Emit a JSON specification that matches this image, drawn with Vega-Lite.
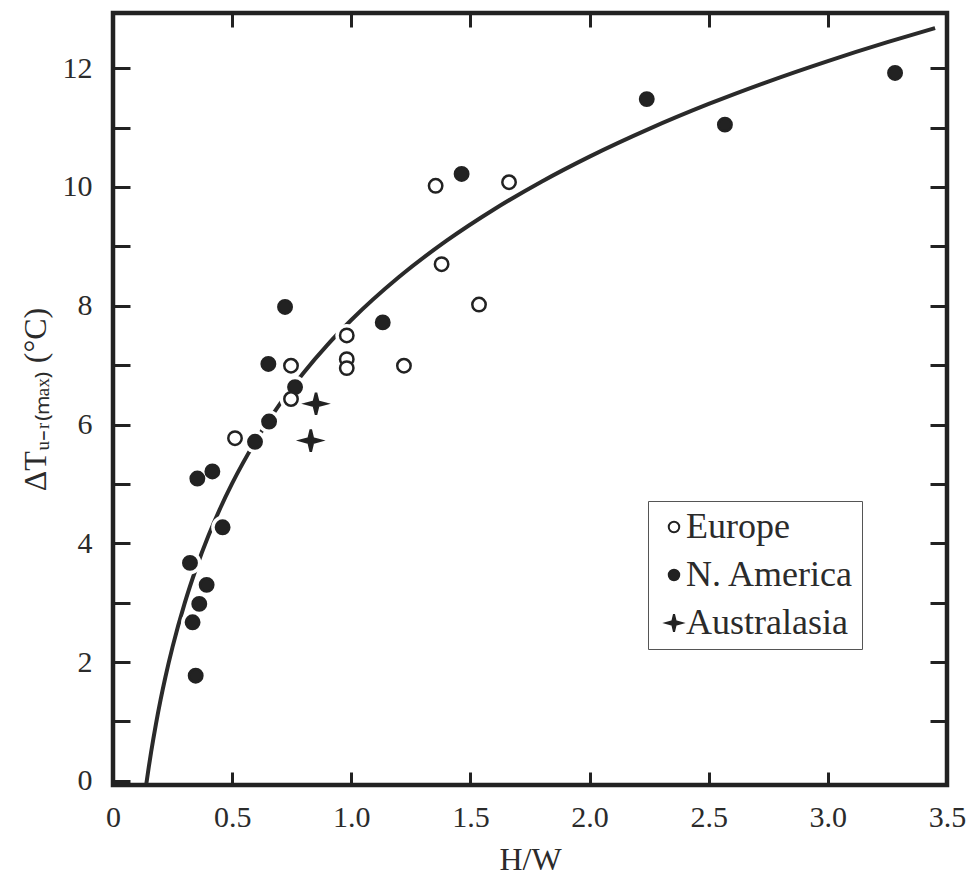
{
  "$schema": "https://vega.github.io/schema/vega-lite/v6.json",
  "width": 834,
  "height": 772,
  "autosize": {"type": "none"},
  "padding": {"left": 113, "top": 13, "right": 24, "bottom": 97},
  "background": "white",
  "config": {
    "view": {"stroke": "#222", "strokeWidth": 4.5},
    "font": "Liberation Serif",
    "axis": {
      "domain": false,
      "grid": false,
      "tickColor": "#222",
      "tickWidth": 3,
      "labelFont": "Liberation Serif",
      "labelFontSize": 30,
      "labelColor": "#2b2b2b",
      "titleFont": "Liberation Serif",
      "titleFontSize": 32,
      "titleFontWeight": "normal",
      "titleColor": "#2b2b2b"
    }
  },
  "datasets": {
    "curve": [
      {"hw": 0.14, "dt": -0.045},
      {"hw": 0.15, "dt": 0.229},
      {"hw": 0.16, "dt": 0.485},
      {"hw": 0.18, "dt": 0.952},
      {"hw": 0.2, "dt": 1.371},
      {"hw": 0.22, "dt": 1.749},
      {"hw": 0.25, "dt": 2.256},
      {"hw": 0.3, "dt": 2.98},
      {"hw": 0.35, "dt": 3.592},
      {"hw": 0.4, "dt": 4.122},
      {"hw": 0.45, "dt": 4.59},
      {"hw": 0.5, "dt": 5.008},
      {"hw": 0.6, "dt": 5.732},
      {"hw": 0.7, "dt": 6.344},
      {"hw": 0.8, "dt": 6.874},
      {"hw": 0.9, "dt": 7.342},
      {"hw": 1.0, "dt": 7.76},
      {"hw": 1.2, "dt": 8.484},
      {"hw": 1.4, "dt": 9.096},
      {"hw": 1.6, "dt": 9.626},
      {"hw": 1.8, "dt": 10.094},
      {"hw": 2.0, "dt": 10.512},
      {"hw": 2.25, "dt": 10.979},
      {"hw": 2.5, "dt": 11.398},
      {"hw": 2.75, "dt": 11.776},
      {"hw": 3.0, "dt": 12.121},
      {"hw": 3.25, "dt": 12.439},
      {"hw": 3.45, "dt": 12.676}
    ],
    "points": [
      {"region": "N. America", "hw": 0.722, "dt": 7.98},
      {"region": "N. America", "hw": 1.132, "dt": 7.72},
      {"region": "N. America", "hw": 0.652, "dt": 7.02},
      {"region": "N. America", "hw": 0.764, "dt": 6.63},
      {"region": "N. America", "hw": 0.655, "dt": 6.05},
      {"region": "N. America", "hw": 0.596, "dt": 5.71},
      {"region": "N. America", "hw": 0.354, "dt": 5.09},
      {"region": "N. America", "hw": 0.417, "dt": 5.21},
      {"region": "N. America", "hw": 0.46, "dt": 4.27},
      {"region": "N. America", "hw": 0.323, "dt": 3.67},
      {"region": "N. America", "hw": 0.393, "dt": 3.3},
      {"region": "N. America", "hw": 0.362, "dt": 2.98},
      {"region": "N. America", "hw": 0.334, "dt": 2.67},
      {"region": "N. America", "hw": 0.347, "dt": 1.77},
      {"region": "N. America", "hw": 1.463, "dt": 10.22},
      {"region": "N. America", "hw": 2.24, "dt": 11.48},
      {"region": "N. America", "hw": 2.568, "dt": 11.05},
      {"region": "N. America", "hw": 3.282, "dt": 11.92},
      {"region": "Europe", "hw": 0.981, "dt": 7.5},
      {"region": "Europe", "hw": 0.747, "dt": 6.99},
      {"region": "Europe", "hw": 0.981, "dt": 7.1},
      {"region": "Europe", "hw": 0.981, "dt": 6.95},
      {"region": "Europe", "hw": 1.221, "dt": 6.99},
      {"region": "Europe", "hw": 0.747, "dt": 6.43},
      {"region": "Europe", "hw": 0.512, "dt": 5.77},
      {"region": "Europe", "hw": 1.354, "dt": 10.02},
      {"region": "Europe", "hw": 1.662, "dt": 10.08},
      {"region": "Europe", "hw": 1.379, "dt": 8.7},
      {"region": "Europe", "hw": 1.536, "dt": 8.02},
      {"region": "Australasia", "hw": 0.852, "dt": 6.35},
      {"region": "Australasia", "hw": 0.83, "dt": 5.73}
    ]
  },
  "resolve": {"axis": {"x": "independent", "y": "independent"}},
  "layer": [
    {
      "data": {"name": "curve"},
      "mark": {"type": "line", "stroke": "#2a2a2a", "strokeWidth": 4, "interpolate": "monotone", "clip": true},
      "encoding": {
        "x": {
          "field": "hw", "type": "quantitative",
          "scale": {"domain": [0, 3.5], "nice": false, "zero": false},
          "axis": {
            "orient": "bottom",
            "values": [0, 0.5, 1, 1.5, 2, 2.5, 3, 3.5],
            "labelExpr": "datum.value === 0 ? '0' : format(datum.value, '.1f')",
            "tickSize": -13,
            "labelPadding": 30,
            "labelFlush": false,
            "title": "H/W",
            "titlePadding": 12
          }
        },
        "y": {
          "field": "dt", "type": "quantitative",
          "scale": {"domain": [-0.07, 12.93], "nice": false, "zero": false},
          "axis": {
            "orient": "left",
            "values": [0, 1, 2, 3, 4, 5, 6, 7, 8, 9, 10, 11, 12],
            "labelExpr": "datum.value % 2 === 0 ? datum.label : ''",
            "tickSize": -17,
            "labelPadding": 38,
            "labelFlush": false,
            "title": "ΔTᵤ₋ᵣ₍ₘₐₓ₎ (°C)",
            "titlePadding": 10
          }
        }
      }
    },
    {
      "data": {"name": "points"},
      "mark": {"type": "point", "shape": "circle", "filled": true, "fill": "white", "stroke": null, "size": 520, "opacity": 1},
      "encoding": {
        "x": {
          "field": "hw", "type": "quantitative",
          "scale": {"domain": [0, 3.5], "nice": false, "zero": false},
          "axis": {"orient": "top", "values": [0.5, 1, 1.5, 2, 2.5, 3], "labels": false, "title": null, "tickSize": -14}
        },
        "y": {
          "field": "dt", "type": "quantitative",
          "scale": {"domain": [-0.07, 12.93], "nice": false, "zero": false},
          "axis": {"orient": "right", "values": [1, 2, 3, 4, 5, 6, 7, 8, 9, 10, 11, 12], "labels": false, "title": null, "tickSize": -17}
        }
      }
    },
    {
      "data": {"name": "points"},
      "mark": {"type": "point", "size": 180, "stroke": "#222", "strokeWidth": 2.5, "opacity": 1, "fillOpacity": 1},
      "encoding": {
        "x": {"field": "hw", "type": "quantitative", "scale": {"domain": [0, 3.5], "nice": false, "zero": false}, "axis": null},
        "y": {"field": "dt", "type": "quantitative", "scale": {"domain": [-0.07, 12.93], "nice": false, "zero": false}, "axis": null},
        "fill": {
          "field": "region", "type": "nominal",
          "scale": {"domain": ["Europe", "N. America", "Australasia"], "range": ["white", "#222", "#222"]},
          "legend": {
            "title": null,
            "orient": "none",
            "legendX": 535,
            "legendY": 488,
            "strokeColor": "#555",
            "padding": 8,
            "labelFont": "Liberation Serif",
            "labelFontSize": 36,
            "labelLimit": 400,
            "labelColor": "#2b2b2b",
            "labelOffset": -6,
            "rowPadding": 12,
            "symbolSize": 110,
            "symbolStrokeColor": "#222",
            "symbolStrokeWidth": 2
          }
        },
        "shape": {
          "field": "region", "type": "nominal",
          "scale": {"domain": ["Europe", "N. America", "Australasia"], "range": ["circle", "circle", "M0,-1.65 L0.32,-0.32 L1.5,0 L0.32,0.32 L0,1.65 L-0.32,0.32 L-1.5,0 L-0.32,-0.32 Z"]}
        }
      }
    }
  ]
}
